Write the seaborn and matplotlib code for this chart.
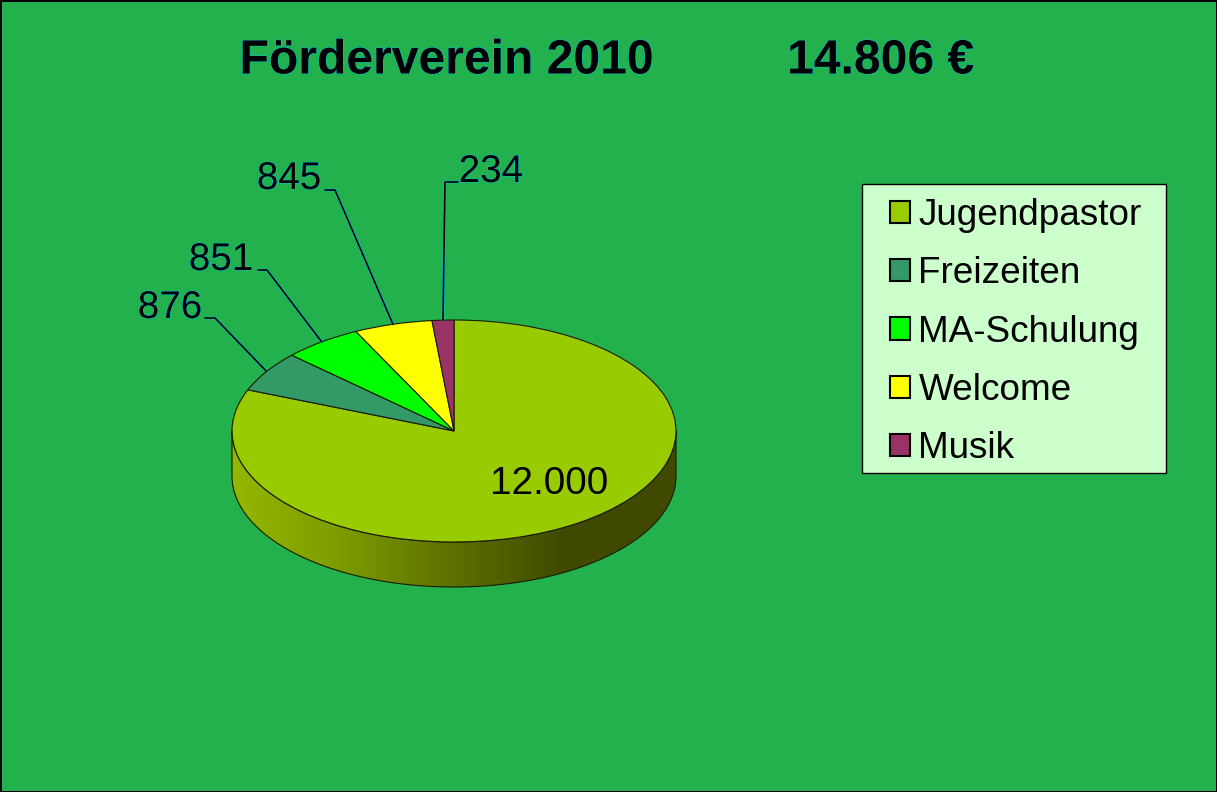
import numpy as np
import matplotlib.pyplot as plt
import matplotlib.patheffects as pe
from matplotlib.colors import LinearSegmentedColormap
from matplotlib.patches import Polygon, Rectangle
import seaborn as sns

categories = ['Jugendpastor', 'Freizeiten', 'MA-Schulung', 'Welcome', 'Musik']
values = [12000, 876, 851, 845, 234]
value_labels = ['12.000', '876', '851', '845', '234']
colors = ['#99CC00', '#339966', '#00FF00', '#FFFF00', '#993366']
title = 'Förderverein 2010          14.806 €'

W, H = 1217, 792
CX, CY, RX, RY, DEPTH = 454, 431, 222, 111, 45
BG = '#23B14D'

sns.set_theme(style='white')
plt.rcParams['font.family'] = ['Liberation Sans', 'DejaVu Sans']

fig = plt.figure(figsize=(W / 100, H / 100), dpi=100, facecolor=BG,
                 edgecolor='black', linewidth=2)
ax = fig.add_axes([0, 0, 1, 1])

wedges, _ = ax.pie(values, colors=sns.color_palette(colors), startangle=90,
                   counterclock=False,
                   wedgeprops={'edgecolor': '#1a1a00', 'linewidth': 0.8})
# one data unit = RX px across, RY px up
ax.set_aspect('auto')
ax.set_xlim(-CX / RX, (W - CX) / RX)
ax.set_ylim((CY - H) / RY, CY / RY)
ax.axis('off')


def to_data(px, py):
    return (px - CX) / RX, (CY - py) / RY


# side of the disc with the shading from light left to dark right
theta = np.linspace(np.pi, 2 * np.pi, 200)
d = DEPTH / RY
top = np.column_stack([np.cos(theta), np.sin(theta)])
bottom = (top - [0, d])[::-1]
side = Polygon(np.vstack([top, bottom]), closed=True, facecolor='none',
               edgecolor='#1a1a00', linewidth=0.8, zorder=0.5)
ax.add_patch(side)
side_cmap = LinearSegmentedColormap.from_list(
    'side', sns.blend_palette(['#94B800', '#7C9A00', '#5C7000', '#3F4A00', '#3F4A00'], 5))
grad = ax.imshow(np.linspace(0, 1, 256)[None, :], cmap=side_cmap, aspect='auto',
                 extent=(-1, 1, -1 - d, 0), zorder=0.4)
grad.set_clip_path(side)
ax.set_xlim(-CX / RX, (W - CX) / RX)
ax.set_ylim((CY - H) / RY, CY / RY)

fringe = [pe.withStroke(linewidth=0.7, foreground='#00C8E0')]

# big slice label sits on the pie
x, y = to_data(549, 484)
ax.text(x, y, value_labels[0], fontsize=27.8, color='black', ha='center',
        va='center')

# small slices get a leader line, elbow and text placed by hand
label_pos = {1: (170, 308), 2: (221, 260), 3: (289, 179), 4: (491, 172)}
elbows = {1: [(205, 318), (215, 318)], 2: [(258, 270), (267, 270)],
          3: [(325, 190), (335, 190)], 4: [(458, 182), (445, 182)]}
angles = np.cumsum([0] + values) / sum(values) * 2 * np.pi
for i in range(1, len(values)):
    mid = (angles[i] + angles[i + 1]) / 2
    pts = [to_data(*p) for p in elbows[i]] + [(np.sin(mid), np.cos(mid))]
    ax.plot(*zip(*pts), color='black', lw=1.2, zorder=3,
            path_effects=[pe.withStroke(linewidth=1.8, foreground='#00C8E0')])
    x, y = to_data(*label_pos[i])
    ax.text(x, y, value_labels[i], fontsize=27.8, color='black', ha='center',
            va='center', path_effects=fringe)

x, y = to_data(607, 61)
ax.text(x, y, title, fontsize=34.6, fontweight='bold', color='black',
        ha='center', va='center', path_effects=fringe)

# legend box is wider than the legend's own padding allows, so draw it apart
fig.add_artist(Rectangle((862 / W, 1 - 473 / H), 304 / W, 289 / H,
                         transform=fig.transFigure, facecolor='#CCFFCC',
                         edgecolor='black', linewidth=1.0, zorder=4))
leg = ax.legend(wedges, categories, loc='upper left',
                bbox_to_anchor=(890 / W, 1 - 198 / H),
                bbox_transform=fig.transFigure, fontsize=26.6, frameon=False,
                borderpad=0, borderaxespad=0, labelspacing=0.63,
                handlelength=0.55, handleheight=0.55, handletextpad=0.22,
                labelcolor='black')
for patch in leg.get_patches():
    patch.set_edgecolor('black')
    patch.set_linewidth(1.5)
# keep the legend above the box drawn on the figure
ax.set_zorder(5)
ax.patch.set_visible(False)

fig.savefig('out.png', dpi=100)
